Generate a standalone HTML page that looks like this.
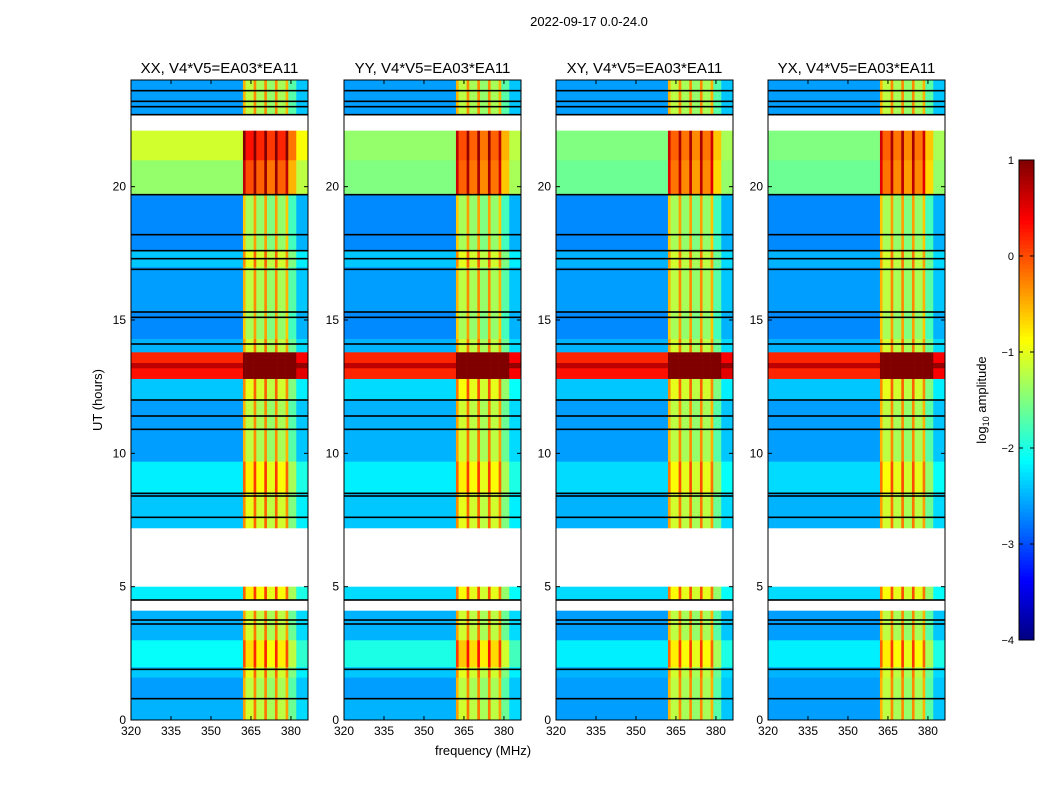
<!DOCTYPE html>
<html><head><meta charset="utf-8">
<style>
html,body{margin:0;padding:0;background:#fff;}
svg{display:block;font-family:"Liberation Sans","DejaVu Sans",sans-serif;}
</style></head>
<body>
<svg id="fig" width="1050" height="800" viewBox="0 0 1050 800">
<text x="589" y="26" font-size="13" text-anchor="middle">2022-09-17 0.0-24.0</text>
<text x="483" y="755" font-size="13" text-anchor="middle">frequency (MHz)</text>
<text x="102" y="400" font-size="13" text-anchor="middle" transform="rotate(-90 102 400)">UT (hours)</text>
<text x="986" y="400" font-size="13" text-anchor="middle" transform="rotate(-90 986 400)">log<tspan font-size="9" dy="3">10</tspan><tspan dy="-3"> amplitude</tspan></text>
<g id="panels"></g>
<g id="cbar"></g>
</svg>
<script>
// ---- data ----
const panelTitles = ["XX, V4*V5=EA03*EA11","YY, V4*V5=EA03*EA11","XY, V4*V5=EA03*EA11","YX, V4*V5=EA03*EA11"];
const segStart = [0,0.8,1.6,2.0,3.0,4.5,7.2,8.5,9.7,12.0,12.8,13.2,13.4,13.8,14.3,15.3,17.0,17.6,19.7,21.0,22.7];
const segEnd   = [0.8,1.6,2.0,3.0,4.1,5.0,8.5,9.7,12.0,12.8,13.2,13.4,13.8,14.3,15.3,17.0,17.6,19.7,21.0,22.1,24.0];
const levelsXX = [-2.5,-2.6,-2.4,-2.1,-2.5,-2.2,-2.4,-2.2,-2.6,-2.4,0.3,0.7,0.2,-2.5,-2.7,-2.6,-2.4,-2.7,-1.4,-1.1,-2.6];
const levelsYY = [-2.5,-2.6,-2.4,-2.0,-2.5,-2.3,-2.4,-2.2,-2.5,-2.3,0.2,0.7,0.2,-2.5,-2.7,-2.6,-2.4,-2.7,-1.5,-1.4,-2.6];
const levelsXY = [-2.6,-2.6,-2.5,-2.2,-2.6,-2.3,-2.5,-2.3,-2.6,-2.4,0.3,0.7,0.2,-2.5,-2.7,-2.6,-2.5,-2.7,-1.6,-1.5,-2.6];
const levelsYX = [-2.6,-2.6,-2.5,-2.2,-2.6,-2.3,-2.5,-2.3,-2.6,-2.4,0.2,0.7,0.2,-2.5,-2.7,-2.6,-2.5,-2.7,-1.6,-1.5,-2.6];
const panelLevels = [levelsXX,levelsYY,levelsXY,levelsYX];
const colEdges = [320,362,363,366,367,370,371,374,375,378,379,382,386.4];
const colBoost = [0,2.1,1.4,2.3,1.3,2.3,1.2,2.3,1.3,2.1,0.9,0.2];
const blackLines = [0.8,1.9,3.6,3.75,4.5,7.6,8.4,8.5,10.9,11.4,12.0,14.1,15.1,15.3,16.9,17.3,17.6,18.2,19.7,22.7,23.0,23.2,23.6];
const yTicks = [0,5,10,15,20];
const xTicks = [320,335,350,365,380];
const cTicks = [1,0,-1,-2,-3,-4];
const cTickLabels = ["1","0","\u22121","\u22122","\u22123","\u22124"];

// ---- layout ----
const panelX = [131,344,556,768];
const PW = 177, PT = 80, PB = 720;
const fmin = 320, fmax = 386.4, tmin = 0, tmax = 24, vmin = -4, vmax = 1;
const NS = "http://www.w3.org/2000/svg";

function jet(v){
  let t=(Math.min(vmax,Math.max(vmin,v))-vmin)/(vmax-vmin);
  const c=x=>Math.round(255*Math.min(1,Math.max(0,1.5-Math.abs(x))));
  return `rgb(${c(4*t-3)},${c(4*t-2)},${c(4*t-1)})`;
}
function mk(tag,attrs,parent){const e=document.createElementNS(NS,tag);for(const k in attrs)e.setAttribute(k,attrs[k]);parent.appendChild(e);return e;}

const panels=document.getElementById('panels');
panelX.forEach((x0,p)=>{
  const xs=f=>x0+(f-fmin)/(fmax-fmin)*PW;
  const ys=t=>PB-(t-tmin)/(tmax-tmin)*(PB-PT);
  const g=mk('g',{},panels);
  
  
  const lv=panelLevels[p];
  for(let s=0;s<segStart.length;s++){
    for(let c=0;c<colBoost.length;c++){
      const r=mk('rect',{x:xs(colEdges[c]),y:ys(segEnd[s]),width:xs(colEdges[c+1])-xs(colEdges[c])+0.3,height:ys(segStart[s])-ys(segEnd[s])+0.3,fill:jet(lv[s]+colBoost[c])},g);
      
      
    }
  }
  blackLines.forEach(t=>{
    const l=mk('rect',{x:x0,y:ys(t)-0.8,width:PW,height:1.6,fill:'#000'},g);
    
    
  });
  const fr=mk('rect',{x:x0,y:PT,width:PW,height:PB-PT,fill:'none',stroke:'#000','stroke-width':1},g);
  
  
  const tt=mk('text',{x:x0+PW/2,y:73,'font-size':15,'text-anchor':'middle'},g);
  tt.textContent=panelTitles[p];
  
  
  yTicks.forEach(v=>{
    const y=ys(v);
    mk('line',{x1:x0,x2:x0+4,y1:y,y2:y,stroke:'#000'},g);
    mk('line',{x1:x0+PW,x2:x0+PW-4,y1:y,y2:y,stroke:'#000'},g);
    const t=mk('text',{x:x0-5,y:y+4,'font-size':12,'text-anchor':'end'},g);
    t.textContent=v;
    
    
  });
  xTicks.forEach(v=>{
    const x=xs(v);
    mk('line',{x1:x,x2:x,y1:PB,y2:PB-4,stroke:'#000'},g);
    mk('line',{x1:x,x2:x,y1:PT,y2:PT+4,stroke:'#000'},g);
    const t=mk('text',{x:x,y:PB+15,'font-size':12,'text-anchor':'middle'},g);
    t.textContent=v;
    
    
  });
});

// colorbar
const cb=document.getElementById('cbar');


const CX=1019,CW=15,CT=160,CB=640;
const cy=v=>CB-(v-vmin)/(vmax-vmin)*(CB-CT);
const N=120;
for(let i=0;i<N;i++){
  const v0=vmin+(vmax-vmin)*i/N, v1=vmin+(vmax-vmin)*(i+1)/N;
  mk('rect',{x:CX,y:cy(v1),width:CW,height:cy(v0)-cy(v1)+0.5,fill:jet((v0+v1)/2)},cb);
}
mk('rect',{x:CX,y:CT,width:CW,height:CB-CT,fill:'none',stroke:'#000'},cb);
cTicks.forEach((v,i)=>{
  const y=cy(v);
  mk('line',{x1:CX,x2:CX+4,y1:y,y2:y,stroke:'#000'},cb);
  mk('line',{x1:CX+CW,x2:CX+CW-4,y1:y,y2:y,stroke:'#000'},cb);
  const t=mk('text',{x:CX-5,y:y+4,'font-size':11,'text-anchor':'end'},cb);
  t.textContent=cTickLabels[i];
  
  
});
</script>
</body></html>
